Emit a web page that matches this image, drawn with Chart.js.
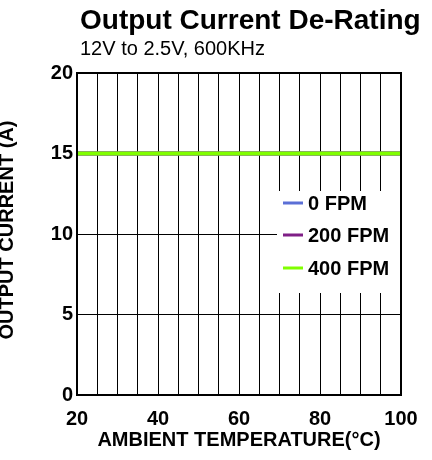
<!DOCTYPE html>
<html>
<head>
<meta charset="utf-8">
<script src="https://cdn.jsdelivr.net/npm/chart.js@4"></script>
<style>
  html, body { margin: 0; padding: 0; background: #fff; }
  #wrap { width: 432px; height: 460px; }
</style>
</head>
<body>
<div id="wrap"><canvas id="derating" width="432" height="460"></canvas></div>
<script>
/* ================================
   DATA
================================ */
const temps = [20, 100];
const fpm0 = [15, 15];
const fpm200 = [15, 15];
const fpm400 = [15, 15];
const seriesNames = ["0 FPM", "200 FPM", "400 FPM"];
const xTickLabels = [20, 40, 60, 80, 100];
const yTickLabels = [0, 5, 10, 15, 20];

const FONT = '"Liberation Sans", Arial, sans-serif';

const toPoints = (vals) => vals.map((v, i) => ({ x: temps[i], y: v }));

/* ================================
   TEXTS, FRAME, LEGEND
================================ */
const decor = {
  id: "decor",
  afterDraw(chart) {
    const c = chart.ctx;
    const a = chart.chartArea;
    c.save();
    c.fillStyle = "#000";

    // title + subtitle
    c.textAlign = "left";
    c.textBaseline = "alphabetic";
    c.font = "bold 28px " + FONT;
    c.fillText("Output Current De-Rating", 80, 29);
    c.font = "20px " + FONT;
    c.fillText("12V to 2.5V, 600KHz", 80, 55);

    // y axis title (cut off at the left edge, like the source)
    c.save();
    c.translate(13, 230);
    c.rotate(-Math.PI / 2);
    c.textAlign = "center";
    c.font = "bold 20px " + FONT;
    c.fillText("OUTPUT CURRENT (A)", 0, 0);
    c.restore();

    // legend inside the plot
    const lx = 277, ly = 191, lw = a.right - 277, lh = 102;
    c.fillStyle = "#fff";
    c.fillRect(lx, ly, lw, lh);
    const rows = [203, 235, 268];
    c.font = "bold 20px " + FONT;
    c.textBaseline = "middle";
    chart.data.datasets.forEach((ds, i) => {
      c.strokeStyle = ds.borderColor;
      c.lineWidth = 3;
      c.beginPath();
      c.moveTo(283, rows[i]);
      c.lineTo(303, rows[i]);
      c.stroke();
      c.fillStyle = "#000";
      c.fillText(ds.label, 308, rows[i] + 1);
    });

    // frame
    c.strokeStyle = "#000";
    c.lineWidth = 2;
    c.strokeRect(a.left, a.top, a.right - a.left, a.bottom - a.top);
    c.restore();
  }
};

/* ================================
   CHART
================================ */
const ctx = document.getElementById("derating");

new Chart(ctx, {
  type: "line",
  data: {
    datasets: [
      { label: seriesNames[0], data: toPoints(fpm0), borderColor: "#5b6fd6", order: 2 },
      { label: seriesNames[1], data: toPoints(fpm200), borderColor: "#7f1f86", order: 1 },
      { label: seriesNames[2], data: toPoints(fpm400), borderColor: "#80ff00", order: 0 }
    ].map(d => ({ ...d, borderWidth: 4, pointRadius: 0, fill: false, tension: 0 }))
  },
  options: {
    responsive: false,
    animation: false,
    devicePixelRatio: 1,
    layout: { padding: { top: 73, right: 31, bottom: 0, left: 0 } },
    plugins: {
      legend: { display: false },
      title: { display: false },
      tooltip: { enabled: false }
    },
    scales: {
      x: {
        type: "linear",
        min: 20,
        max: 100,
        grid: { color: "#000", lineWidth: 1, drawTicks: false },
        border: { display: false },
        ticks: {
          stepSize: 5,
          autoSkip: false,
          maxRotation: 0,
          padding: 12,
          color: "#000",
          font: { family: FONT, size: 20, weight: "bold" },
          callback: (v) => xTickLabels.includes(v) ? String(v) : ""
        },
        title: {
          display: true,
          text: "AMBIENT TEMPERATURE(°C)",
          color: "#000",
          font: { family: FONT, size: 20, weight: "bold" },
          padding: { top: 0, bottom: 8 }
        },
        afterFit: (s) => { s.height = 65; }
      },
      y: {
        min: 0,
        max: 20,
        grid: { color: "#000", lineWidth: 1, drawTicks: false },
        border: { display: false },
        ticks: {
          stepSize: 5,
          padding: 4,
          color: "#000",
          font: { family: FONT, size: 20, weight: "bold" },
          callback: (v) => yTickLabels.includes(v) ? String(v) : ""
        },
        afterFit: (s) => { s.width = 77; }
      }
    }
  },
  plugins: [decor]
});
</script>
</body>
</html>
